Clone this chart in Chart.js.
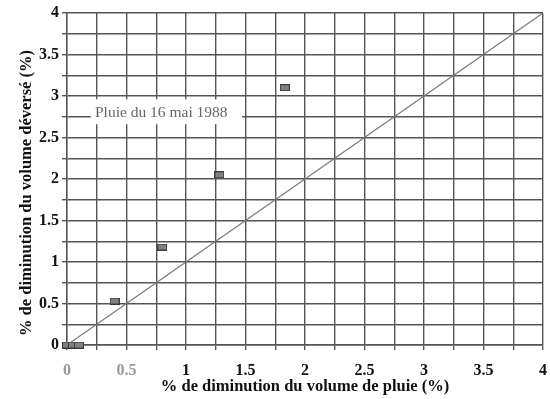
<!DOCTYPE html>
<html>
<head>
<meta charset="utf-8">
<script src="https://cdn.jsdelivr.net/npm/chart.js@4/dist/chart.umd.min.js"></script>
<style>
  body { margin: 0; background: #fff; }
  #wrap { width: 550px; height: 399px; }
</style>
</head>
<body>
<div id="wrap"><canvas id="pluie"></canvas></div>
<script>
// values
const rainDecrease = [0, 0.05, 0.1, 0.4, 0.8, 1.28, 1.83];
const overflowDecrease = [0, 0, 0, 0.53, 1.18, 2.05, 3.1];
const diagX = [0, 4];
const diagY = [0, 4];
const noteText = 'Pluie du 16 mai 1988';
const yTitle = '% de diminution du volume déversé (%)';
const xTitle = '% de diminution du volume de pluie (%)';

// little grey rectangle used as marker
const marker = document.createElement('canvas');
marker.width = 10;
marker.height = 7;
const mctx = marker.getContext('2d');
mctx.fillStyle = '#808080';
mctx.fillRect(0, 0, 10, 7);
mctx.strokeStyle = '#3a3a3a';
mctx.lineWidth = 1;
mctx.strokeRect(0.5, 0.5, 9, 6);

const noteLabel = {
    id: 'noteLabel',
    afterDatasetsDraw(chart) {
        const ctx = chart.ctx;
        const x = chart.scales.x;
        const y = chart.scales.y;
        const left = x.getPixelForValue(0.2);
        const right = x.getPixelForValue(1.47);
        const top = y.getPixelForValue(2.96);
        const bottom = y.getPixelForValue(2.66);
        ctx.save();
        ctx.fillStyle = '#fff';
        ctx.fillRect(left, top, right - left, bottom - top);
        ctx.fillStyle = '#666';
        ctx.font = '15.5px "Liberation Serif"';
        ctx.textBaseline = 'middle';
        ctx.fillText(noteText, x.getPixelForValue(0.235), y.getPixelForValue(2.8));
        ctx.restore();
    },
    afterDraw(chart) {
        // y title sits a bit lower than the axis centre in the original
        const ctx = chart.ctx;
        ctx.save();
        ctx.translate(27, 193);
        ctx.rotate(-Math.PI / 2);
        ctx.fillStyle = '#111';
        ctx.font = 'bold 16.5px "Liberation Serif"';
        ctx.textAlign = 'center';
        ctx.textBaseline = 'middle';
        ctx.fillText(yTitle, 0, 0);
        ctx.restore();
    }
};

function halfLabel(v) {
    return Math.abs(v * 2 - Math.round(v * 2)) < 1e-6 ? String(v) : '';
}

const ctx = document.getElementById('pluie');

new Chart(ctx, {
    type: 'scatter',
    data: {
        datasets: [{
            label: 'mesures',
            data: rainDecrease.map((v, i) => ({ x: v, y: overflowDecrease[i] })),
            pointStyle: marker,
            pointRadius: 5,
            clip: false,
            order: 1
        }, {
            label: '1:1',
            type: 'line',
            data: diagX.map((v, i) => ({ x: v, y: diagY[i] })),
            borderColor: '#7a7a7a',
            borderWidth: 1.2,
            pointRadius: 0,
            order: 2
        }]
    },
    options: {
        responsive: true,
        maintainAspectRatio: false,
        animation: false,
        layout: {
            padding: { left: 0, right: 7, top: 13, bottom: 0 }
        },
        plugins: {
            legend: { display: false },
            tooltip: { enabled: false }
        },
        scales: {
            x: {
                type: 'linear',
                min: 0,
                max: 4,
                ticks: {
                    stepSize: 0.25,
                    autoSkip: false,
                    maxRotation: 0,
                    color: (c) => (c.tick && c.tick.value < 0.6 ? '#999' : '#111'),
                    padding: 11,
                    font: { family: 'Liberation Serif', size: 16, weight: 'bold' },
                    callback: halfLabel
                },
                grid: { color: '#555', lineWidth: 1.4, tickLength: 5 },
                border: { color: '#555', width: 1.4 },
                title: {
                    display: true,
                    text: xTitle,
                    color: '#111',
                    padding: { top: 0, bottom: 2 },
                    font: { family: 'Liberation Serif', size: 16.5, weight: 'bold' }
                },
                afterFit(scale) {
                    scale.height = 54;
                    scale.paddingLeft = 0;
                    scale.paddingRight = 0;
                }
            },
            y: {
                type: 'linear',
                min: 0,
                max: 4,
                ticks: {
                    stepSize: 0.25,
                    autoSkip: false,
                    color: '#111',
                    padding: 3,
                    font: { family: 'Liberation Serif', size: 16, weight: 'bold' },
                    callback: halfLabel
                },
                grid: { color: '#555', lineWidth: 1.4, tickLength: 5 },
                border: { color: '#555', width: 1.4 },
                afterFit(scale) { scale.width = 67; }
            }
        }
    },
    plugins: [noteLabel]
});
</script>
</body>
</html>
